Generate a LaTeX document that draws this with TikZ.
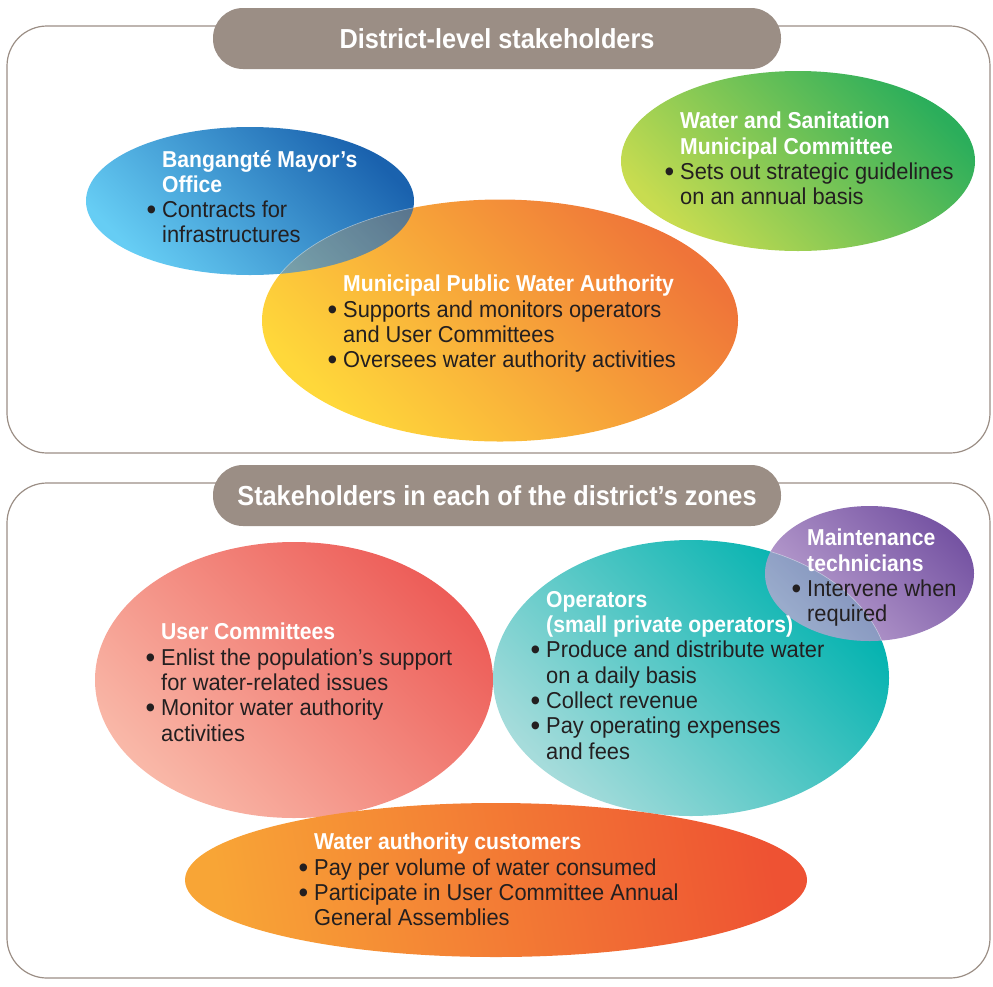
\documentclass[tikz,border=0pt]{standalone}
\usepackage{fontspec}
\setmainfont{Liberation Sans}[FakeStretch=0.95, BoldFeatures={FakeStretch=0.92}]

\definecolor{framegray}{HTML}{9B8E85}
\definecolor{inkdark}{HTML}{231F20}
\definecolor{mayorlight}{HTML}{66CDF4}
\definecolor{mayordark}{HTML}{1A62AE}
\definecolor{mpwalight}{HTML}{FFD83A}
\definecolor{mpwadark}{HTML}{EF7439}
\definecolor{mpwamid}{HTML}{F59C35}
\definecolor{sanlight}{HTML}{C8DC50}
\definecolor{sandark}{HTML}{2BAE5B}
\definecolor{userlight}{HTML}{F9B8A8}
\definecolor{userdark}{HTML}{ED5D58}
\definecolor{oplight}{HTML}{A6DCDB}
\definecolor{opdark}{HTML}{00B2AF}
\definecolor{opmid}{HTML}{3CC0BC}
\definecolor{techlight}{HTML}{BEA4D2}
\definecolor{techdark}{HTML}{7654A3}
\definecolor{custlight}{HTML}{F8A536}
\definecolor{custdark}{HTML}{EE5233}

\tikzset{
  panel/.style={draw=framegray, line width=1.2pt, rounded corners=40pt},
  banner/.style={fill=framegray, rounded corners=30pt},
  bannertext/.style={font=\fontsize{27.5}{30}\selectfont\bfseries, text=white, inner sep=0pt},
  blurb/.style={anchor=north west, align=left, inner sep=0pt, text=inkdark,
    font=\fontsize{23}{25.3}\selectfont},
  seam/.style={draw=white, draw opacity=0.45, line width=0.6pt},
}
\newcommand{\hd}[1]{{\bfseries\color{white}#1}}
\newcommand{\itm}{\llap{\raisebox{-2pt}[0pt][0pt]{\fontsize{29}{29}\selectfont\textbullet}\hspace{6pt}}}

\begin{document}
\begin{tikzpicture}[x=1pt, y=-1pt]
    \useasboundingbox (0,0) rectangle (993,986);

    % ---- district level ----
    \draw[panel] (7,26) rectangle (990,453);
    \fill[banner] (213,8) rectangle (781,69);
    \node[bannertext] (distTitle) at (497,38.5) {District-level stakeholders};

    % Municipal public water authority
    \def\mpwa{(500,320.5) ellipse [x radius=238pt, y radius=121pt]}
    \shade[top color=mpwalight, bottom color=mpwadark, shading angle=135] \mpwa;

    % Mayor's office, on top of the authority
    \def\mayor{(250,201) ellipse [x radius=164pt, y radius=74pt]}
    \shade[top color=mayorlight, bottom color=mayordark, shading angle=135] \mayor;
    \begin{scope}
        \clip \mayor;
        \fill[mpwamid, fill opacity=0.28] \mpwa;
        \draw[seam] \mpwa;
    \end{scope}

    % Water and sanitation committee
    \shade[top color=sanlight, bottom color=sandark, shading angle=135]
        (798,161) ellipse [x radius=177pt, y radius=90pt];

    \node[blurb] (mayorTxt) at (162,150)
        {\hd{Bangangté Mayor’s}\\ \hd{Office}\\ \itm Contracts for\\ infrastructures};
    \node[blurb] (mpwaTxt) at (343,275)
        {\hd{Municipal Public Water Authority}\\ \itm Supports and monitors operators\\
         and User Committees\\ \itm Oversees water authority activities};
    \node[blurb] (sanTxt) at (680,112)
        {\hd{Water and Sanitation}\\ \hd{Municipal Committee}\\
         \itm Sets out strategic guidelines\\ on an annual basis};

    % ---- zones ----
    \draw[panel] (7,483) rectangle (990,978);
    \fill[banner] (213,465) rectangle (781,526);
    \node[bannertext] (zoneTitle) at (497,495.5) {Stakeholders in each of the district’s zones};

    % User committees
    \shade[top color=userlight, bottom color=userdark, shading angle=135]
        (294,680) ellipse [x radius=199pt, y radius=138pt];

    % Operators
    \def\oper{(691,678) ellipse [x radius=198pt, y radius=138pt]}
    \shade[top color=oplight, bottom color=opdark, shading angle=135] \oper;

    % Maintenance technicians, on top of the operators
    \def\tech{(869.5,573.5) ellipse [x radius=104.5pt, y radius=67.5pt]}
    \shade[top color=techlight, bottom color=techdark, shading angle=135] \tech;
    \begin{scope}
        \clip \tech;
        \fill[opmid, fill opacity=0.28] \oper;
        \draw[seam] \oper;
    \end{scope}

    % Customers
    \shade[top color=custlight, bottom color=custdark, shading angle=100]
        (496,880) ellipse [x radius=311pt, y radius=77pt];

    \node[blurb] (userTxt) at (161,623)
        {\hd{User Committees}\\ \itm Enlist the population’s support\\
         for water-related issues\\ \itm Monitor water authority\\ activities};
    \node[blurb] (operTxt) at (546,591)
        {\hd{Operators}\\ \hd{(small private operators)}\\
         \itm Produce and distribute water\\ on a daily basis\\ \itm Collect revenue\\
         \itm Pay operating expenses\\ and fees};
    \node[blurb] (techTxt) at (807,529)
        {\hd{Maintenance}\\ \hd{technicians}\\ \itm Intervene when\\ required};
    \node[blurb] (custTxt) at (314,833)
        {\hd{Water authority customers}\\ \itm Pay per volume of water consumed\\
         \itm Participate in User Committee Annual\\ General Assemblies};
\end{tikzpicture}
\end{document}
